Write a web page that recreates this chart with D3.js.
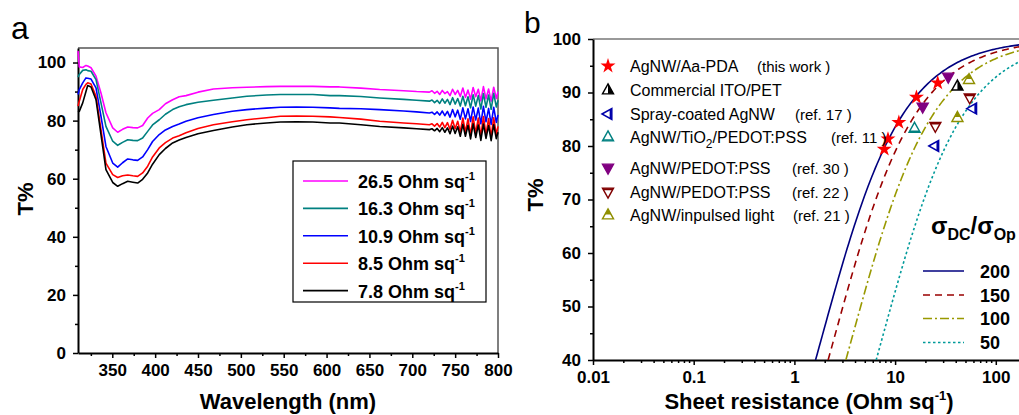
<!doctype html>
<html lang="en">
<head>
<meta charset="UTF-8">
<title>d3</title>
<script src="https://d3js.org/d3.v7.min.js"></script>
<style>
  body { margin: 0; background: #fff; }
  svg { font-family: Arial, "Liberation Sans", sans-serif; }
  .axis .tick text { font-weight: bold; font-size: 17px; fill: #000; }
  .axis .domain { stroke: #000; stroke-width: 2px; }
  .axis .tick line { stroke: #000; stroke-width: 1.5px; }
</style>
</head>
<body>
<div class="canvas"></div>
<script>
  // ---- panel a : spectra ----
  const wavelength = [310, 311.5, 315.5, 319.3, 321.3, 325.2, 331, 336.8, 342.6, 350.5, 356.3, 362, 368, 374, 379.6,
    385.4, 391.3, 397, 404.8, 412, 420.4, 428, 436, 450, 468, 490, 507, 530, 546, 565, 584, 604, 615, 640, 662, 690,
    705, 720, 723, 726, 729, 732, 735, 738, 741, 744, 747, 750, 753, 756, 759, 762, 765, 768, 771, 774, 777, 780,
    783, 786, 789, 792, 795, 798, 800];

  const t265 = [104, 98.5, 98.3, 99.0, 98.8, 98.2, 95.3, 89.5, 82.7, 77.5, 76.0, 77.0, 77.8, 77.6, 77.5, 78.3, 80.9,
    82.5, 83.8, 85.8, 87.2, 88.2, 88.6, 89.8, 90.9, 91.3, 91.5, 91.7, 91.8, 91.8, 91.8, 91.6, 91.6, 91.2, 90.7, 90.3,
    90.0, 89.8, 90.3, 89.4, 90.1, 89.0, 90.4, 89.3, 90.0, 88.6, 90.8, 89.0, 90.4, 88.3, 91.2, 88.0, 90.5, 87.4, 91.4,
    88.2, 90.8, 86.8, 91.7, 87.5, 90.9, 86.7, 91.5, 87.6, 90.0];
  const t163 = [95, 95.9, 97.3, 97.5, 97.2, 97.0, 94.1, 86.1, 78.0, 72.9, 71.5, 72.5, 73.4, 73.2, 73.1, 74.0, 76.3,
    78.5, 80.3, 82.2, 83.8, 84.8, 85.5, 86.3, 87.0, 87.8, 88.4, 88.8, 89.0, 89.0, 89.0, 88.6, 88.6, 88.3, 87.8, 87.3,
    87.0, 86.7, 87.1, 86.2, 87.0, 85.9, 87.5, 86.0, 87.3, 85.5, 87.9, 85.7, 87.6, 85.0, 88.4, 85.1, 88.2, 84.4, 88.9,
    85.0, 88.6, 84.0, 89.3, 84.6, 88.8, 83.9, 89.4, 84.7, 87.0];
  const t109 = [89, 90.7, 93.0, 94.7, 94.6, 94.3, 91.3, 81.5, 71.1, 65.4, 64.0, 65.5, 66.8, 66.5, 66.3, 67.5, 70.0,
    72.8, 75.2, 76.8, 78.0, 78.8, 79.8, 81.0, 82.1, 83.2, 83.8, 84.3, 84.6, 84.7, 84.6, 84.4, 84.2, 84.1, 83.8, 83.3,
    83.0, 82.6, 82.9, 82.1, 83.0, 81.9, 83.3, 81.7, 83.2, 81.2, 83.8, 81.3, 83.6, 80.5, 84.4, 80.6, 84.1, 79.7, 84.7,
    80.2, 84.3, 78.9, 84.9, 79.6, 84.2, 78.7, 84.6, 79.4, 82.0];
  const t85 = [85, 86.7, 90.7, 92.5, 93.0, 92.6, 88.4, 76.9, 65.4, 61.4, 60.4, 61.0, 61.3, 61.0, 60.8, 62.0, 64.3,
    67.5, 70.6, 72.4, 74.0, 74.8, 75.8, 77.3, 78.6, 79.6, 80.3, 81.0, 81.5, 81.6, 81.5, 81.3, 81.1, 80.5, 79.8, 79.2,
    78.9, 78.6, 78.9, 78.1, 79.0, 77.8, 79.4, 77.6, 79.3, 77.0, 80.1, 77.2, 79.8, 76.1, 80.9, 76.0, 80.6, 75.0, 81.3,
    75.6, 80.9, 74.5, 81.4, 75.3, 80.7, 74.4, 81.0, 75.2, 78.0];
  const t78 = [83, 83.2, 86.1, 90.0, 92.1, 91.6, 87.2, 75.2, 63.1, 58.7, 57.4, 58.3, 59.1, 58.8, 58.5, 59.8, 62.0,
    65.0, 68.3, 70.4, 72.3, 73.3, 74.2, 75.5, 76.6, 77.8, 78.6, 79.2, 79.5, 79.6, 79.5, 79.2, 79.2, 78.6, 78.0, 77.5,
    77.2, 76.9, 77.2, 76.5, 77.3, 76.2, 77.6, 76.0, 77.5, 75.5, 78.1, 75.6, 77.9, 74.6, 78.7, 74.6, 78.4, 73.7, 78.9,
    74.2, 78.5, 73.2, 78.8, 73.9, 78.3, 73.1, 78.6, 73.8, 76.0];

  const sheetLabels = ['26.5', '16.3', '10.9', '8.5', '7.8'];
  const spectraColors = ['#ff00ff', '#008080', '#0000ff', '#ff0000', '#000000'];
  const spectraT = [t265, t163, t109, t85, t78];

  const ticksA_x = [350, 400, 450, 500, 550, 600, 650, 700, 750, 800];
  const ticksA_y = [0, 20, 40, 60, 80, 100];

  // ---- panel b : T% vs sheet resistance ----
  const starR = [7.8, 8.5, 10.9, 16.3, 26.5];
  const starT = [79.4, 81.3, 84.4, 89.1, 91.8];
  const itoR = [41.6];
  const itoT = [91.2];
  const sprayR = [24.8, 59.0];
  const sprayT = [80.0, 87.0];
  const tioR = [15.6];
  const tioT = [83.3];
  const ped30R = [18.8, 33.7];
  const ped30T = [87.3, 92.9];
  const ped22R = [25.1, 55.1];
  const ped22T = [83.7, 89.0];
  const pulseR = [41.6, 54.2];
  const pulseT = [85.3, 92.4];

  const ratios = [200, 150, 100, 50]; // sigma_DC / sigma_Op
  const ticksB_x = [0.01, 0.1, 1, 10, 100];
  const ticksB_y = [40, 50, 60, 70, 80, 90, 100];

  const svg = d3.select('.canvas')
    .append('svg')
    .attr('width', 1019)
    .attr('height', 415);

  // ================= panel a =================
  const xA = d3.scaleLinear().domain([310, 800]).range([78, 498]);
  const yA = d3.scaleLinear().domain([0, 105]).range([353, 48]);
  const a = svg.append('g');

  a.append('g').attr('class', 'axis')
    .attr('transform', 'translate(0,353)')
    .call(d3.axisBottom(xA).tickValues(d3.range(325, 800, 50)).tickSize(3).tickFormat('').tickSizeOuter(0))
    .call(g => g.select('.domain').remove());
  a.append('g').attr('class', 'axis')
    .attr('transform', 'translate(78,0)')
    .call(d3.axisLeft(yA).tickValues([10, 30, 50, 70, 90]).tickSize(3).tickFormat('').tickSizeOuter(0))
    .call(g => g.select('.domain').remove());

  // frame top / right
  a.append('path')
    .attr('d', `M78,48H498V353`)
    .attr('fill', 'none').attr('stroke', '#555').attr('stroke-width', 1.5);

  a.append('g').attr('class', 'axis')
    .attr('transform', 'translate(0,353)')
    .call(d3.axisBottom(xA).tickValues(ticksA_x).tickSize(5).tickPadding(6).tickSizeOuter(0));
  a.append('g').attr('class', 'axis')
    .attr('transform', 'translate(78,0)')
    .call(d3.axisLeft(yA).tickValues(ticksA_y).tickSize(5).tickPadding(7).tickSizeOuter(0));

  const lineA = d3.line()
    .x((d, i) => xA(wavelength[i]))
    .y(d => yA(d));

  a.selectAll('path.spec')
    .data(spectraT)
    .join('path')
    .attr('class', 'spec')
    .attr('d', lineA)
    .attr('fill', 'none')
    .attr('stroke', (d, i) => spectraColors[i])
    .attr('stroke-width', 1.6)
    .attr('stroke-linejoin', 'round');

  // legend a
  a.append('rect')
    .attr('x', 293).attr('y', 161).attr('width', 193).attr('height', 141)
    .attr('fill', '#fff').attr('stroke', '#000').attr('stroke-width', 1.2);
  const legA = a.selectAll('g.legA')
    .data(sheetLabels)
    .join('g')
    .attr('class', 'legA')
    .attr('transform', (d, i) => `translate(0,${181 + i * 27.4})`);
  legA.append('line')
    .attr('x1', 303).attr('x2', 348)
    .attr('stroke', (d, i) => spectraColors[i]).attr('stroke-width', 1.6);
  const legAText = legA.append('text')
    .attr('x', 358).attr('y', 7)
    .attr('font-size', '18px').attr('font-weight', 'bold');
  legAText.append('tspan').text(d => `${d} Ohm sq`);
  legAText.append('tspan').attr('dy', -8).attr('font-size', '11px').text('-1');

  a.append('text')
    .attr('x', 288).attr('y', 409)
    .attr('text-anchor', 'middle')
    .attr('font-size', '22px').attr('font-weight', 'bold')
    .text('Wavelength (nm)');
  a.append('text')
    .attr('transform', 'translate(33,199) rotate(-90)')
    .attr('text-anchor', 'middle')
    .attr('font-size', '22px').attr('font-weight', 'bold')
    .text('T%');
  a.append('text')
    .attr('x', 11).attr('y', 39)
    .attr('font-size', '32px')
    .text('a');

  // ================= panel b =================
  const xB = d3.scaleLog().domain([0.01, 170]).range([593, 1019]);
  const yB = d3.scaleLinear().domain([40, 100]).range([360, 39]);
  const b = svg.append('g');

  const minorLog = [];
  [0.01, 0.1, 1, 10, 100].forEach(dec => d3.range(2, 10).forEach(k => { if (dec * k <= 170) minorLog.push(dec * k); }));

  b.append('g').attr('class', 'axis')
    .attr('transform', 'translate(0,360)')
    .call(d3.axisBottom(xB).tickValues(minorLog).tickSize(3).tickFormat('').tickSizeOuter(0))
    .call(g => g.select('.domain').remove());
  b.append('g').attr('class', 'axis')
    .attr('transform', 'translate(593,0)')
    .call(d3.axisLeft(yB).tickValues([45, 55, 65, 75, 85, 95]).tickSize(3).tickFormat('').tickSizeOuter(0))
    .call(g => g.select('.domain').remove());

  b.append('line')
    .attr('x1', 593).attr('x2', 1019).attr('y1', 39).attr('y2', 39)
    .attr('stroke', '#777').attr('stroke-width', 1.5);

  b.append('g').attr('class', 'axis')
    .attr('transform', 'translate(0,360)')
    .call(d3.axisBottom(xB).tickValues(ticksB_x).tickFormat(d3.format('~g')).tickSize(5).tickPadding(6).tickSizeOuter(0));
  b.append('g').attr('class', 'axis')
    .attr('transform', 'translate(593,0)')
    .call(d3.axisLeft(yB).tickValues(ticksB_y).tickSize(5).tickPadding(7).tickSizeOuter(0));

  svg.append('clipPath').attr('id', 'clipB')
    .append('rect').attr('x', 593).attr('y', 39).attr('width', 426).attr('height', 321);

  // bulk-like relation T = (1 + 188.5 / (Rs * ratio))^-2
  const ratioColors = ['#00007f', '#990000', '#999900', '#009a9a'];
  const ratioDash = ['none', '7,5', '9,3,2,3', '2.5,2.5'];
  const theory = ratios.map(r => {
    const r40 = 188.5 / (r * (1 / Math.sqrt(0.4) - 1));
    return d3.range(0, 121).map(i => {
      const rs = r40 * Math.pow(200 / r40, i / 120);
      return [rs, 100 / Math.pow(1 + 188.5 / (rs * r), 2)];
    });
  });

  const lineB = d3.line()
    .x(d => xB(d[0]))
    .y(d => yB(d[1]));

  b.append('g').attr('clip-path', 'url(#clipB)')
    .selectAll('path')
    .data(theory)
    .join('path')
    .attr('d', lineB)
    .attr('fill', 'none')
    .attr('stroke', (d, i) => ratioColors[i])
    .attr('stroke-width', 1.6)
    .attr('stroke-dasharray', (d, i) => ratioDash[i]);

  // marker shapes
  const up = 'M0,-5.5L5,3.5L-5,3.5Z';
  const down = 'M0,5.5L5,-3.5L-5,-3.5Z';
  const left = 'M-5.5,0L3.5,-5L3.5,5Z';
  const markerStyles = [
    { color: '#ff0000', star: true },
    { color: '#000000', shape: up, fill: 'M0,-5.5L5,3.5L0,3.5Z' },
    { color: '#0000aa', shape: left, fill: 'M1.5,-3.9L3.5,-5L3.5,5L1.5,3.9Z' },
    { color: '#008080', shape: up, fill: 'M-4.2,2L4.2,2L5,3.5L-5,3.5Z' },
    { color: '#800080', shape: down, fill: down },
    { color: '#800000', shape: down, fill: 'M-5,-3.5L5,-3.5L3.9,-1.5L-3.9,-1.5Z' },
    { color: '#8f8f00', shape: up, fill: 'M0,-5.5L2.8,-0.5L-2.8,-0.5Z' }
  ];

  function marker(g, k, x, y) {
    const st = markerStyles[k];
    const m = g.append('g').attr('transform', `translate(${x},${y}) scale(1.1)`);
    if (st.star) {
      m.append('path').attr('d', d3.symbol(d3.symbolStar, 58)()).attr('fill', st.color);
      return;
    }
    m.append('path').attr('d', st.shape).attr('fill', '#fff')
      .attr('stroke', st.color).attr('stroke-width', 1.3).attr('stroke-linejoin', 'miter');
    m.append('path').attr('d', st.fill).attr('fill', st.color);
  }

  const pointSets = [[starR, starT], [itoR, itoT], [sprayR, sprayT], [tioR, tioT],
    [ped30R, ped30T], [ped22R, ped22T], [pulseR, pulseT]];
  const pts = b.append('g');
  pointSets.forEach(([rs, ts], k) => {
    rs.forEach((r, i) => marker(pts, k, xB(r), yB(ts[i])));
  });

  // legend b
  const legNames = ['AgNW/Aa-PDA', 'Commercial ITO/PET', 'Spray-coated AgNW', 'AgNW/TiO2/PEDOT:PSS',
    'AgNW/PEDOT:PSS', 'AgNW/PEDOT:PSS', 'AgNW/inpulsed light'];
  const legRefs = ['(this work )', '', '(ref. 17 )', '(ref. 11 )', '(ref. 30 )', '(ref. 22 )', '(ref. 21 )'];
  const legRows = [66, 90, 114, 137, 168, 192, 215];
  const refX = [757, 0, 795, 831, 792, 792, 793];

  legNames.forEach((name, i) => {
    marker(b, i, 608, legRows[i]);
    const t = b.append('text')
      .attr('x', 630).attr('y', legRows[i] + 5.5)
      .attr('font-size', '16px');
    if (name.indexOf('TiO2') >= 0) {
      t.append('tspan').text('AgNW/TiO');
      t.append('tspan').attr('dy', 5).attr('font-size', '12px').text('2');
      t.append('tspan').attr('dy', -5).text('/PEDOT:PSS');
    } else {
      t.text(name);
    }
    if (legRefs[i]) {
      b.append('text')
        .attr('x', refX[i]).attr('y', legRows[i] + 5.5)
        .attr('font-size', '15px')
        .text(legRefs[i]);
    }
  });

  // sigma legend
  const sig = b.append('text')
    .attr('x', 931).attr('y', 234)
    .attr('font-weight', 'bold').attr('font-size', '24px');
  sig.append('tspan').text('σ');
  sig.append('tspan').attr('dy', 6).attr('font-size', '16px').text('DC');
  sig.append('tspan').attr('dy', -6).text('/σ');
  sig.append('tspan').attr('dy', 6).attr('font-size', '16px').text('Op');

  const sigRows = [271, 295, 318.5, 342.5];
  ratios.forEach((r, i) => {
    b.append('line')
      .attr('x1', 923).attr('x2', 964).attr('y1', sigRows[i]).attr('y2', sigRows[i])
      .attr('stroke', ratioColors[i]).attr('stroke-width', 1.6)
      .attr('stroke-dasharray', ratioDash[i]);
    b.append('text')
      .attr('x', 980).attr('y', sigRows[i] + 6.5)
      .attr('font-size', '18px').attr('font-weight', 'bold')
      .text(r);
  });

  const xt = b.append('text')
    .attr('x', 809).attr('y', 409)
    .attr('text-anchor', 'middle')
    .attr('font-size', '22px').attr('font-weight', 'bold');
  xt.append('tspan').text('Sheet resistance (Ohm sq');
  xt.append('tspan').attr('dy', -9).attr('font-size', '13px').text('-1');
  xt.append('tspan').attr('dy', 9).text(')');

  b.append('text')
    .attr('transform', 'translate(543,195) rotate(-90)')
    .attr('text-anchor', 'middle')
    .attr('font-size', '22px').attr('font-weight', 'bold')
    .text('T%');
  b.append('text')
    .attr('x', 524).attr('y', 33)
    .attr('font-size', '30px')
    .text('b');
</script>
</body>
</html>
